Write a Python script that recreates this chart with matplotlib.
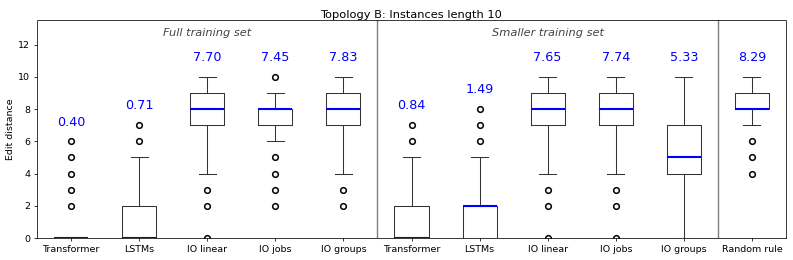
import matplotlib
matplotlib.use("Agg")
import matplotlib.pyplot as plt

labels = ["Transformer", "LSTMs", "IO linear", "IO jobs", "IO groups",
          "Transformer", "LSTMs", "IO linear", "IO jobs", "IO groups", "Random rule"]
q1 = [0, 0, 7, 7, 7, 0, 0, 7, 7, 4, 8]
med = [0, 0, 8, 8, 8, 0, 2, 8, 8, 5, 8]
q3 = [0, 2, 9, 8, 9, 2, 2, 9, 9, 7, 9]
whislo = [0, 0, 4, 6, 4, 0, 0, 4, 4, 0, 7]
whishi = [0, 5, 10, 9, 10, 5, 5, 10, 10, 10, 10]
fliers = [[2, 3, 4, 5, 6], [6, 7], [0, 2, 3], [2, 3, 4, 5, 10], [2, 3],
          [6, 7], [6, 7, 8], [0, 2, 3], [0, 2, 3], [], [4, 5, 6]]
means = [0.40, 0.71, 7.70, 7.45, 7.83, 0.84, 1.49, 7.65, 7.74, 5.33, 8.29]
groups = ["Full training set", "Smaller training set"]
group_centers = [3, 8]
separators = [5.5, 10.5]

DPI = 68
fig = plt.figure(figsize=(793 / DPI, 260 / DPI), dpi=DPI)
ax = fig.add_axes([37 / 793, 1 - 238 / 260, (786 - 37) / 793, (238 - 20.5) / 260])

stats = []
for i in range(len(labels)):
    stats.append(dict(q1=q1[i], med=med[i], q3=q3[i], whislo=whislo[i],
                      whishi=whishi[i], fliers=fliers[i], label=labels[i]))

positions = list(range(1, len(labels) + 1))
ax.bxp(stats, positions=positions, widths=0.5, showfliers=True,
       boxprops=dict(color="#333333", linewidth=1.1),
       whiskerprops=dict(color="#333333", linewidth=1.1),
       capprops=dict(color="#333333", linewidth=1.1),
       medianprops=dict(color="blue", linewidth=2.2),
       flierprops=dict(marker="o", markerfacecolor="none", markeredgecolor="black",
                       markersize=6, markeredgewidth=1.6))

for p, m, hi, fl in zip(positions, means, whishi, fliers):
    top = max([hi] + fl)
    ax.text(p, top + 1.2, f"{m:.2f}", color="blue", ha="center", va="center", fontsize=13.5)

for s in separators:
    ax.axvline(s, color="gray", linewidth=1.5)

for g, c in zip(groups, group_centers):
    ax.text(c, 12.75, g, ha="center", va="center", fontsize=12, style="italic", color="#444444")

ax.set_xlim(0.5, 11.5)
ax.set_ylim(0, 13.5)
ax.set_yticks([0, 2, 4, 6, 8, 10, 12])
ax.tick_params(axis="both", labelsize=10)
ax.set_ylabel("Edit distance", fontsize=10, labelpad=4)
ax.set_title("Topology B: Instances length 10", fontsize=12, pad=3)

fig.savefig("out.png", dpi=DPI)
